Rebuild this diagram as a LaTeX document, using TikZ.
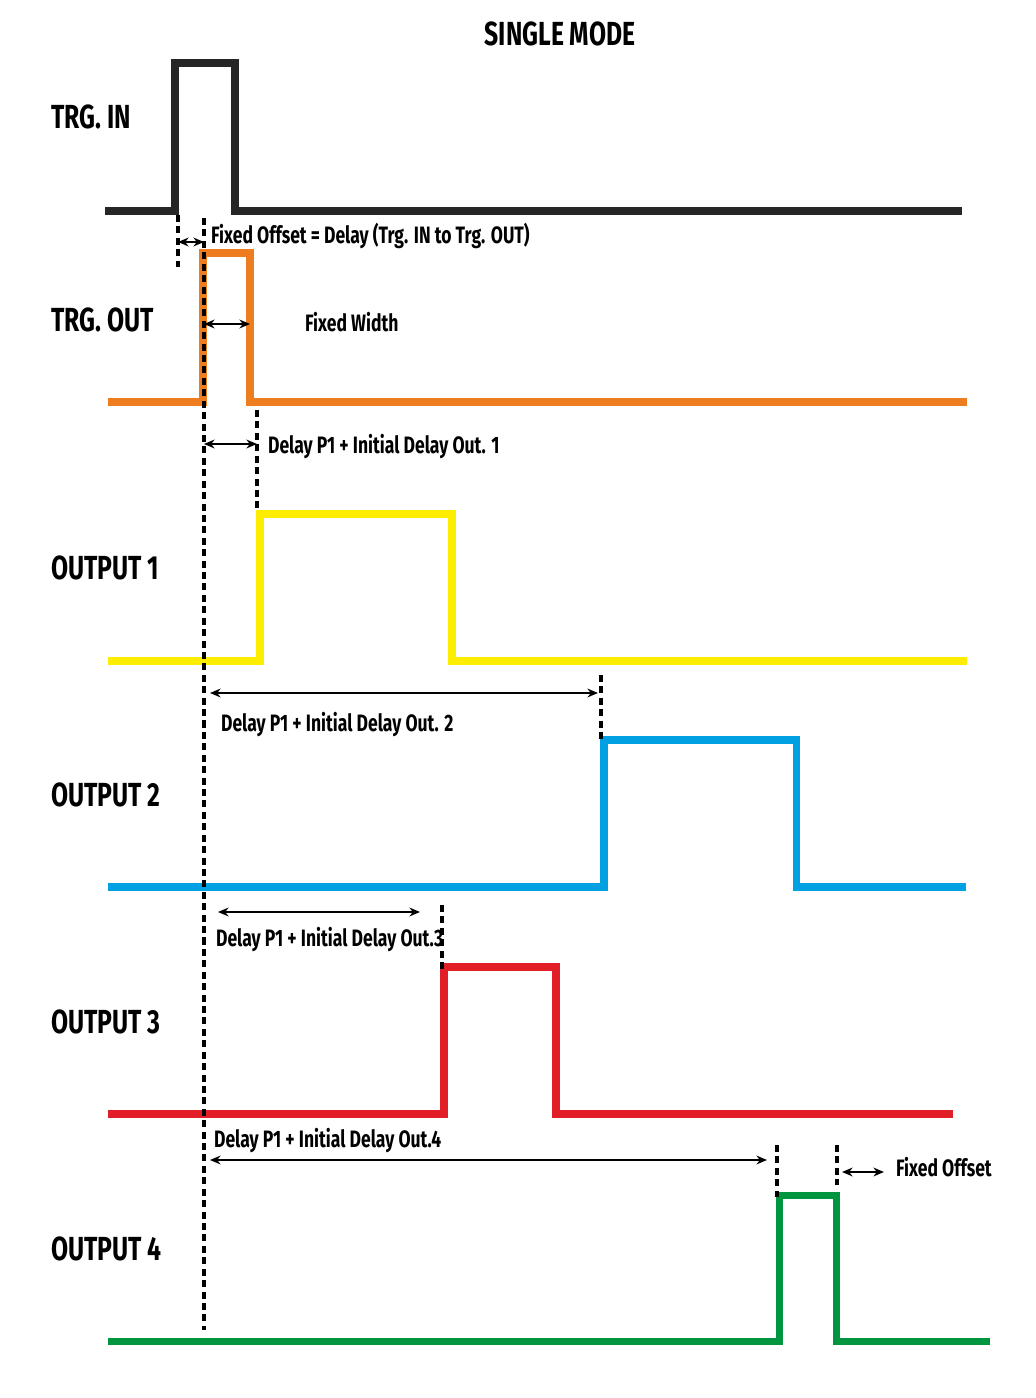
\documentclass[tikz,border=0pt]{standalone}
\usepackage{fontspec}
\setmainfont{Fira Sans}[FakeStretch=0.74]
\usetikzlibrary{positioning,arrows.meta}
\definecolor{trgorange}{RGB}{237,125,30}
\definecolor{outyellow}{RGB}{255,237,0}
\definecolor{outblue}{RGB}{0,160,227}
\definecolor{outred}{RGB}{226,30,38}
\definecolor{outgreen}{RGB}{0,150,64}
\begin{document}
\begin{tikzpicture}[x=0.02cm,y=-0.02cm,
  wave/.style={line width=4pt},
  tick/.style={line width=2.3pt,dash pattern=on 4pt off 2.5pt},
  span/.style={<->,>={Stealth[length=6pt,width=5pt]},line width=1.2pt},
  lbl/.style={anchor=west,font=\bfseries\fontsize{19}{20}\selectfont},
  note/.style={anchor=west,font=\bfseries\fontsize{13.5}{15}\selectfont,inner sep=1pt}]
  \useasboundingbox (0,0) rectangle (1035,1398);
  \node (title) at (560,34) {\bfseries\fontsize{19}{20}\selectfont SINGLE MODE};
  \node[lbl] (in) at (45,117) {TRG. IN};
  \node[lbl] (out) at (45,320) {TRG. OUT};
  \node[lbl] (o1) at (45,568) {OUTPUT 1};
  \node[lbl] (o2) at (45,795) {OUTPUT 2};
  \node[lbl] (o3) at (45,1022) {OUTPUT 3};
  \node[lbl] (o4) at (45,1249) {OUTPUT 4};
  % waveforms
  \draw[wave,black!85] (105,211) -| (175,63) -| (235,211) -- (962,211);
  \draw[wave,trgorange] (108,402) -| (203,253) -| (250,402) -- (967,402);
  \draw[wave,outyellow] (108,661) -| (260,514) -| (452,661) -- (967,661);
  \draw[wave,outblue] (108,887) -| (604,740) -| (796,887) -- (966,887);
  \draw[wave,outred] (108,1114) -| (444,967) -| (556,1114) -- (953,1114);
  \draw[wave,outgreen] (108,1341) -| (779,1195) -| (836,1341) -- (990,1341);
  % markers
  \coordinate (m0t) at (178,215); \coordinate (m0b) at (178,267);
  \coordinate (m1t) at (204,218); \coordinate (m1b) at (204,1330);
  \coordinate (m2t) at (257,410); \coordinate (m2b) at (257,510);
  \coordinate (m3t) at (601,675); \coordinate (m3b) at (601,740);
  \coordinate (m4t) at (442,905); \coordinate (m4b) at (442,970);
  \coordinate (m5t) at (777,1145); \coordinate (m5b) at (777,1197);
  \coordinate (m6t) at (837,1145); \coordinate (m6b) at (837,1185);
  \foreach \m in {0,...,6} \draw[tick] (m\m t) -- (m\m b);
  % spans
  \draw[span] (178,242) -- (204,242);
  \draw[span] (204,324) -- (250,324);
  \draw[span] (204,444) -- (257,444);
  \draw[span] (210,693) -- (598,693);
  \draw[span] (218,912) -- (420,912);
  \draw[span] (210,1160) -- (767,1160);
  \draw[span] (842,1172) -- (884,1172);
  % texts
  \node[note] (t0) at (209,236) {Fixed Offset = Delay (Trg. IN to Trg. OUT)};
  \node[note] (t1) at (303,322) {Fixed Width};
  \node[note] (t2) at (266,447) {Delay P1 + Initial Delay Out. 1};
  \node[note] (t3) at (219,725) {Delay P1 + Initial Delay Out. 2};
  \node[note] (t4) at (214,940) {Delay P1 + Initial Delay Out.3};
  \node[note] (t5) at (212,1141) {Delay P1 + Initial Delay Out.4};
  \node[note] (t6) at (894,1167) {Fixed Offset};
\end{tikzpicture}
\end{document}
